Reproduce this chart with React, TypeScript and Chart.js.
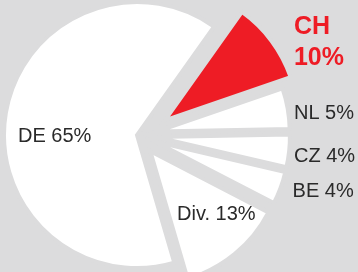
import { useEffect, useRef } from 'react';
import { Chart, ArcElement, PieController } from 'chart.js';

Chart.register(ArcElement, PieController);

// ---- data ----
const categories = ['CH', 'NL', 'CZ', 'BE', 'Div.', 'DE'];
const shares = [10, 5, 4, 4, 13, 65];

// ---- styles ----
const BG = '#dcdcdd';
const RED = '#ee1c25';
const sliceColors = [RED, '#ffffff', '#ffffff', '#ffffff', '#ffffff', '#ffffff'];
const explode = [31.5, 20, 20, 20, 21, 0];
const explodeTurn = [9, 0, 0, 0, 0, 0]; // degrees added to the slice mid-angle for the explode direction

// label layout, in units of the pie radius from the pie centre
const labelLayout = [
  { dx: 1.18, dy: -0.759, bold: true },
  { dx: 1.18, dy: -0.12 },
  { dx: 1.18, dy: 0.203 },
  { dx: 1.17, dy: 0.466 },
  { dx: 0.301, dy: 0.639 },
  { dx: -0.895, dy: 0.053 },
];

const explodePlugin = {
  id: 'explodeSlices',
  afterDatasetUpdate(chart: any, args: any) {
    args.meta.data.forEach((el: any, i: number) => {
      const d = explode[i] || 0;
      const turn = ((explodeTurn[i] || 0) * Math.PI) / 180;
      el.draw = function (ctx: CanvasRenderingContext2D) {
        const mid = (this.startAngle + this.endAngle) / 2 + turn;
        ctx.save();
        ctx.translate(Math.cos(mid) * d, Math.sin(mid) * d);
        ArcElement.prototype.draw.call(this, ctx);
        ctx.restore();
      };
    });
  },
};

const labelPlugin = {
  id: 'sliceLabels',
  afterDraw(chart: any) {
    const meta = chart.getDatasetMeta(0);
    const arc = meta.data[0];
    if (!arc) return;
    const { x, y, outerRadius } = arc.getProps(['x', 'y', 'outerRadius'], true);
    const ctx: CanvasRenderingContext2D = chart.ctx;
    ctx.save();
    ctx.textBaseline = 'alphabetic';
    ctx.textAlign = 'left';
    categories.forEach((cat, i) => {
      const l = labelLayout[i];
      const lx = x + l.dx * outerRadius;
      const ly = y + l.dy * outerRadius;
      if (l.bold) {
        ctx.fillStyle = RED;
        ctx.font = 'bold 25px "Liberation Sans", Arial, sans-serif';
        ctx.fillText(cat, lx, ly);
        ctx.fillText(shares[i] + '%', lx, ly + 31);
      } else {
        ctx.fillStyle = '#2a2a2a';
        ctx.font = '20px "Liberation Sans", Arial, sans-serif';
        ctx.fillText(cat + ' ' + shares[i] + '%', lx, ly);
      }
    });
    ctx.restore();
  },
};

export default function App() {
  const ref = useRef<HTMLCanvasElement | null>(null);
  useEffect(() => {
    document.body.style.margin = '0';
    const chart = new Chart(ref.current as HTMLCanvasElement, {
      type: 'pie',
      data: {
        labels: categories,
        datasets: [
          {
            data: shares,
            backgroundColor: sliceColors,
            borderColor: BG,
            borderWidth: 4,
            borderJoinStyle: 'miter',
          } as any,
        ],
      },
      options: {
        animation: false,
        responsive: false,
        rotation: 35.4,
        radius: 133,
        layout: { padding: { left: 0, right: 84, top: 0, bottom: 2 } },
        plugins: { legend: { display: false }, tooltip: { enabled: false } },
      } as any,
      plugins: [explodePlugin, labelPlugin],
    });
    return () => chart.destroy();
  }, []);
  return (
    <div style={{ width: 358, height: 272, background: BG }}>
      <canvas ref={ref} width={358} height={272} style={{ display: 'block' }} />
    </div>
  );
}
